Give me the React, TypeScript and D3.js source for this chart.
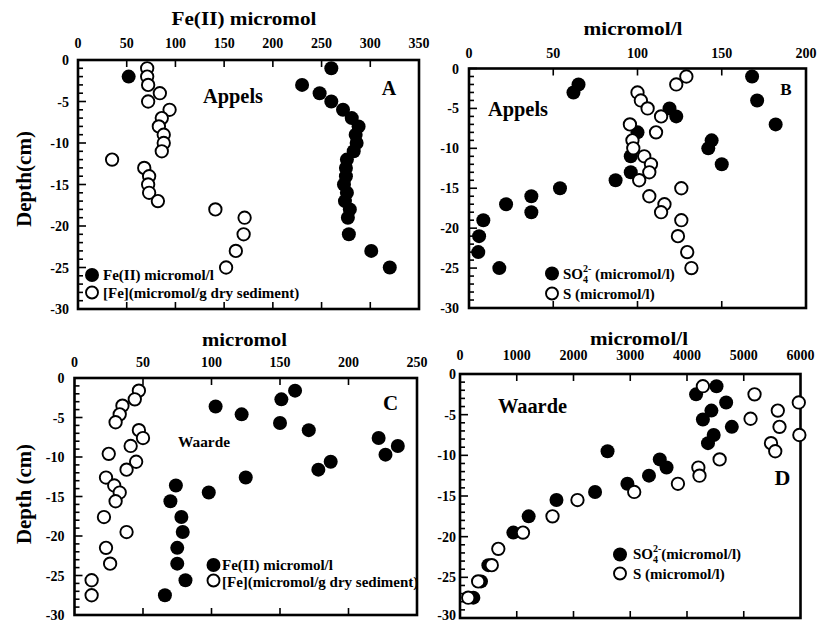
import React from 'react';
import * as d3 from 'd3';

const FONT = "'Liberation Serif', 'Times New Roman', Times, serif";

// ---------- tick labels ----------
const depthTicks = [0, -5, -10, -15, -20, -25, -30];
const xTicksA = [0, 50, 100, 150, 200, 250, 300, 350];
const xTicksB = [0, 50, 100, 150, 200];
const xTicksC = [0, 50, 100, 150, 200, 250];
const xTicksD = [0, 1000, 2000, 3000, 4000, 5000, 6000];

// ---------- data: [value, depth(cm)] ----------
// A: Appels, Fe(II) micromol/l (filled) and [Fe] micromol/g dry sediment (open)
const appelsFeII: [number, number][] = [
  [260, -1], [52, -2], [230, -3], [248, -4], [260, -5], [272, -6], [281, -7], [288, -8],
  [285, -9], [286, -10], [283, -11], [276, -12], [275, -13], [275, -14], [273, -15],
  [276, -16], [274, -17], [279, -18], [277, -19], [278, -21], [301, -23], [320, -25],
];
const appelsFeSolid: [number, number][] = [
  [71, -1], [71, -2], [72, -3], [84, -4], [72, -5], [94, -6], [86, -7], [83, -8],
  [88, -9], [88, -10], [86, -11], [35, -12], [68, -13], [73, -14], [72, -15], [73, -16],
  [82, -17], [141, -18], [171, -19], [170, -21], [162, -23], [152, -25],
];
// B: Appels, SO4 2- (filled) and S (open), micromol/l
const appelsSO4: [number, number][] = [
  [168, -1], [65, -2], [62, -3], [171, -4], [119, -5], [123, -6], [182, -7], [100, -8],
  [144, -9], [142, -10], [96, -11], [150, -12], [96, -13], [87, -14], [54, -15], [37, -16],
  [22, -17], [37, -18], [8.5, -19], [6, -21], [5.5, -23], [18, -25],
];
const appelsS: [number, number][] = [
  [129, -1], [123, -2], [100, -3], [102, -4], [106, -5], [114, -6], [95.5, -7], [111, -8],
  [97, -9], [97.5, -10], [104, -11], [108, -12], [107, -13], [101, -14], [126, -15],
  [107, -16], [116, -17], [114, -18], [126, -19], [124, -21], [129.5, -23], [132, -25],
];
// C: Waarde, Fe(II) (filled) and [Fe] (open)
const waardeFeII: [number, number][] = [
  [161, -1.6], [151, -2.7], [103, -3.6], [122, -4.6], [150, -5.7], [171, -6.6], [222, -7.6],
  [236, -8.6], [227, -9.7], [187, -10.6], [178, -11.6], [125, -12.6], [74, -13.6], [98, -14.5],
  [70, -15.6], [78, -17.6], [79, -19.5], [75, -21.5], [75, -23.5], [81, -25.6], [66, -27.5],
];
const waardeFeSolid: [number, number][] = [
  [47, -1.6], [44, -2.7], [35, -3.5], [33, -4.6], [30, -5.6], [47, -6.6], [50, -7.6],
  [41, -8.6], [25, -9.6], [45, -10.6], [38, -11.6], [23, -12.6], [29, -13.6], [33, -14.5],
  [30, -15.6], [21.5, -17.6], [38, -19.5], [23, -21.5], [26, -23.5], [12.5, -25.6], [12.5, -27.5],
];
// D: Waarde, SO4 2- (filled) and S (open), micromol/l
const waardeSO4: [number, number][] = [
  [4520, -1.5], [4160, -2.5], [4690, -3.5], [4430, -4.5], [4280, -5.6], [4790, -6.5],
  [4470, -7.5], [4370, -8.5], [2600, -9.5], [3520, -10.5], [3640, -11.5], [3330, -12.5],
  [2950, -13.5], [2380, -14.5], [1700, -15.5], [1210, -17.5], [940, -19.5], [500, -23.5],
  [370, -25.5], [235, -27.5],
];
const waardeS: [number, number][] = [
  [4280, -1.5], [5190, -2.5], [5970, -3.5], [5600, -4.5], [5120, -5.5], [5630, -6.5],
  [5980, -7.5], [5480, -8.5], [5555, -9.5], [4575, -10.5], [4200, -11.5], [4220, -12.5],
  [3840, -13.5], [3070, -14.5], [2070, -15.5], [1630, -17.5], [1110, -19.5], [675, -21.5],
  [560, -23.5], [320, -25.5], [145, -27.5],
];

type LegendLine = { filled: boolean; cx: number; cy: number; tx: number; ty: number; content: React.ReactNode };
type Label = { text: string; x: number; y: number; size: number; len?: number; anchor?: string };

interface PanelProps {
  left: number; right: number; top: number; bottom: number;
  xMax: number; xTicks: number[];
  tickLabelY: number; yLabelGap: number; yLabelShift?: number;
  title: Label;
  filled: [number, number][]; open: [number, number][];
  legend: LegendLine[];
  labels: Label[];
}

const Panel: React.FC<PanelProps> = (p) => {
  const x = d3.scaleLinear().domain([0, p.xMax]).range([p.left, p.right]);
  const y = d3.scaleLinear().domain([0, -30]).range([p.top, p.bottom]);
  const minor = d3.range(-30, 1, 1);
  const inner = p.xTicks.filter((t) => t > 0 && t < p.xMax);
  const shift = p.yLabelShift ?? 5;
  return (
    <g fontFamily={FONT} fontWeight="bold" fill="#000">
      {/* frame */}
      <rect x={p.left} y={p.top} width={p.right - p.left} height={p.bottom - p.top}
        fill="none" stroke="#000" strokeWidth={2.6} />
      {/* left ticks */}
      {minor.map((d) => (
        <line key={'m' + d} x1={p.left} x2={p.left + (d % 5 === 0 ? 8 : 5)} y1={y(d)} y2={y(d)}
          stroke="#000" strokeWidth={1.6} />
      ))}
      {/* top / bottom ticks */}
      {inner.map((t) => (
        <g key={'t' + t}>
          <line x1={x(t)} x2={x(t)} y1={p.top} y2={p.top + 7} stroke="#000" strokeWidth={1.6} />
          <line x1={x(t)} x2={x(t)} y1={p.bottom} y2={p.bottom - 7} stroke="#000" strokeWidth={1.6} />
        </g>
      ))}
      {/* x tick labels */}
      {p.xTicks.map((t) => (
        <text key={'xl' + t} x={x(t)} y={p.tickLabelY} fontSize={14} textAnchor="middle">{t}</text>
      ))}
      {/* y tick labels */}
      {depthTicks.map((t) => (
        <text key={'yl' + t} x={p.left - p.yLabelGap} y={Math.min(y(t) + shift, 620)} fontSize={14} textAnchor="end">{t}</text>
      ))}
      {/* title */}
      <text x={p.title.x} y={p.title.y} fontSize={p.title.size} textAnchor="middle"
        textLength={p.title.len} lengthAdjust="spacingAndGlyphs">{p.title.text}</text>
      {/* labels */}
      {p.labels.map((l, i) => (
        <text key={'lb' + i} x={l.x} y={l.y} fontSize={l.size} textAnchor={l.anchor || 'start'}
          textLength={l.len} lengthAdjust={l.len ? 'spacingAndGlyphs' : undefined}>{l.text}</text>
      ))}
      {/* data */}
      {p.filled.map((d, i) => (
        <circle key={'f' + i} cx={x(d[0])} cy={y(d[1])} r={7} fill="#000" />
      ))}
      {p.open.map((d, i) => (
        <circle key={'o' + i} cx={x(d[0])} cy={y(d[1])} r={6.2} fill="#fff" stroke="#000" strokeWidth={1.9} />
      ))}
      {/* legend */}
      {p.legend.map((l, i) => (
        <g key={'lg' + i}>
          {l.filled
            ? <circle cx={l.cx} cy={l.cy} r={7} fill="#000" />
            : <circle cx={l.cx} cy={l.cy} r={6} fill="#fff" stroke="#000" strokeWidth={1.9} />}
          <text x={l.tx} y={l.ty} fontSize={15}>{l.content}</text>
        </g>
      ))}
    </g>
  );
};

const so4 = (space: boolean) => (
  <>
    <tspan>SO</tspan>
    <tspan dy={4} fontSize={10}>4</tspan>
    <tspan dy={-11} dx={-5} fontSize={10}>2-</tspan>
    <tspan dy={7}>{space ? ' (micromol/l)' : '(micromol/l)'}</tspan>
  </>
);

export default function App() {
  return (
    <svg width={819} height={625} viewBox="0 0 819 625"
      style={{ position: 'absolute', left: 0, top: 0, background: '#fff' }}>
      <rect x={0} y={0} width={819} height={625} fill="#fff" />
      {/* Panel A */}
      <Panel left={78} right={419} top={60} bottom={309} xMax={350} xTicks={xTicksA}
        tickLabelY={48} yLabelGap={9}
        title={{ text: 'Fe(II) micromol', x: 244, y: 25, size: 18, len: 145 }}
        filled={appelsFeII} open={appelsFeSolid}
        legend={[
          { filled: true, cx: 92, cy: 275, tx: 103, ty: 280, content: 'Fe(II) micromol/l' },
          { filled: false, cx: 92, cy: 292.5, tx: 103, ty: 298, content: '[Fe](micromol/g dry sediment)' },
        ]}
        labels={[
          { text: 'Appels', x: 203, y: 103, size: 20, len: 60 },
          { text: 'A', x: 389, y: 94.5, size: 20, anchor: 'middle' },
        ]}
      />
      {/* Panel B */}
      <Panel left={469} right={806} top={68.5} bottom={308} xMax={200} xTicks={xTicksB}
        tickLabelY={58} yLabelGap={10}
        title={{ text: 'micromol/l', x: 633, y: 35, size: 18, len: 99 }}
        filled={appelsSO4} open={appelsS}
        legend={[
          { filled: true, cx: 552, cy: 273.5, tx: 563, ty: 279, content: so4(true) },
          { filled: false, cx: 552, cy: 293.5, tx: 563, ty: 298.5, content: 'S  (micromol/l)' },
        ]}
        labels={[
          { text: 'Appels', x: 488, y: 116, size: 20, len: 60 },
          { text: 'B', x: 786, y: 95, size: 17, anchor: 'middle' },
        ]}
      />
      {/* Panel C */}
      <Panel left={74.5} right={417} top={378} bottom={615} xMax={250} xTicks={xTicksC}
        tickLabelY={367} yLabelGap={10}
        title={{ text: 'micromol', x: 244.5, y: 346, size: 18, len: 85 }}
        filled={waardeFeII} open={waardeFeSolid}
        legend={[
          { filled: true, cx: 213.5, cy: 565, tx: 222, ty: 570, content: 'Fe(II) micromol/l' },
          { filled: false, cx: 213.5, cy: 580.5, tx: 222, ty: 586.5, content: '[Fe](micromol/g dry sediment)' },
        ]}
        labels={[
          { text: 'Waarde', x: 178, y: 447, size: 15, len: 52 },
          { text: 'C', x: 390.5, y: 410, size: 21, anchor: 'middle' },
        ]}
      />
      {/* Panel D */}
      <Panel left={460} right={800.5} top={374} bottom={618} xMax={6000} xTicks={xTicksD}
        tickLabelY={360} yLabelGap={4}
        title={{ text: 'micromol/l', x: 639, y: 345, size: 18, len: 98 }}
        filled={waardeSO4} open={waardeS}
        legend={[
          { filled: true, cx: 620, cy: 554.5, tx: 633, ty: 559, content: so4(false) },
          { filled: false, cx: 620, cy: 573.5, tx: 633, ty: 579, content: 'S (micromol/l)' },
        ]}
        labels={[
          { text: 'Waarde', x: 498, y: 413, size: 20, len: 69 },
          { text: 'D', x: 782.5, y: 485, size: 22, anchor: 'middle' },
        ]}
      />
      {/* Y axis titles */}
      <text transform="translate(31,179) rotate(-90)" fontFamily={FONT} fontWeight="bold" fontSize={20}
        textAnchor="middle" textLength={96} lengthAdjust="spacingAndGlyphs">Depth(cm)</text>
      <text transform="translate(31,494) rotate(-90)" fontFamily={FONT} fontWeight="bold" fontSize={20}
        textAnchor="middle" textLength={100} lengthAdjust="spacingAndGlyphs">Depth (cm)</text>
    </svg>
  );
}
